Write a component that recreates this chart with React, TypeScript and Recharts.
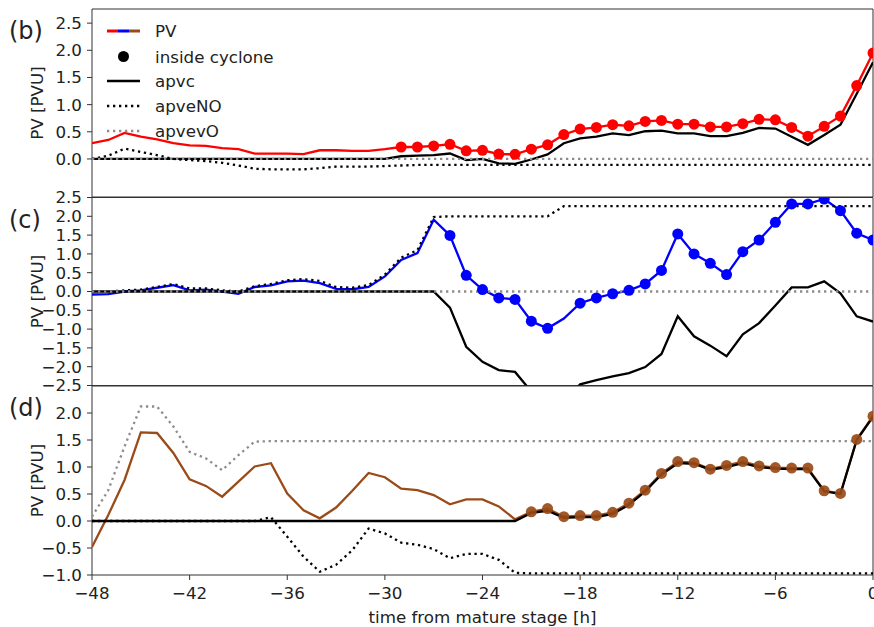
import { LineChart, Line, XAxis, YAxis, ReferenceArea, Label } from 'recharts'

const FONT = '"DejaVu Sans", sans-serif'
const FS = 16.7
const TXT = '#222'
const AX = '#333'
const RED = '#ff0000'
const BLUE = '#0000ff'
const BROWN = '#9a4b18'
const GREY = '#8c8c8c'
const LW = 2.3
const DOTS = '2.3 3.7'

// hours from mature stage, one value per hour
const HOURS = [
  -48, -47, -46, -45, -44, -43, -42,
  -41, -40, -39, -38, -37, -36, -35,
  -34, -33, -32, -31, -30, -29, -28,
  -27, -26, -25, -24, -23, -22, -21,
  -20, -19, -18, -17, -16, -15, -14,
  -13, -12, -11, -10, -9, -8, -7,
  -6, -5, -4, -3, -2, -1, 0,
]
const X_TICKS = [-48, -42, -36, -30, -24, -18, -12, -6, 0]

// panel (b)
const pvB = [
  0.29, 0.35, 0.48, 0.41, 0.36, 0.29, 0.25,
  0.24, 0.2, 0.18, 0.1, 0.1, 0.1, 0.09,
  0.16, 0.16, 0.15, 0.15, 0.18, 0.22, 0.22,
  0.24, 0.27, 0.15, 0.16, 0.09, 0.085, 0.18,
  0.26, 0.45, 0.55, 0.58, 0.63, 0.61, 0.69,
  0.71, 0.64, 0.64, 0.59, 0.59, 0.65, 0.73,
  0.72, 0.58, 0.42, 0.6, 0.79, 1.35, 1.95,
]
const apvcB = [
  0, 0, 0, 0, 0, 0, 0,
  0, 0, 0, 0, 0, 0, 0,
  0, 0, 0, 0, 0, 0.05, 0.06,
  0.07, 0.1, -0.02, 0, -0.08, -0.09, -0.01,
  0.085, 0.29, 0.38, 0.41, 0.47, 0.44, 0.51,
  0.52, 0.47, 0.47, 0.42, 0.42, 0.48, 0.57,
  0.56, 0.41, 0.26, 0.44, 0.63, 1.2, 1.78,
]
const apveNOB = [
  0, 0.06, 0.19, 0.13, 0.07, 0, -0.02,
  -0.04, -0.07, -0.12, -0.18, -0.19, -0.19, -0.19,
  -0.17, -0.14, -0.14, -0.14, -0.13, -0.12, -0.11,
  -0.11, -0.11, -0.11, -0.11, -0.11, -0.11, -0.11,
  -0.11, -0.11, -0.11, -0.11, -0.11, -0.11, -0.11,
  -0.11, -0.11, -0.11, -0.11, -0.11, -0.11, -0.11,
  -0.11, -0.11, -0.11, -0.11, -0.11, -0.11, -0.11,
]
const apvevOB = [
  0, 0, 0, 0, 0, 0, 0,
  0, 0, 0, 0, 0, 0, 0,
  0, 0, 0, 0, 0, 0, 0,
  0, 0, 0, 0, 0, 0, 0,
  0, 0, 0, 0, 0, 0, 0,
  0, 0, 0, 0, 0, 0, 0,
  0, 0, 0, 0, 0, 0, 0,
]
const insideB = [
  0, 0, 0, 0, 0, 0, 0,
  0, 0, 0, 0, 0, 0, 0,
  0, 0, 0, 0, 0, 1, 1,
  1, 1, 1, 1, 1, 1, 1,
  1, 1, 1, 1, 1, 1, 1,
  1, 1, 1, 1, 1, 1, 1,
  1, 1, 1, 1, 1, 1, 1,
]

// panel (c)
const pvC = [
  -0.08, -0.07, 0, 0.03, 0.1, 0.17, 0.03,
  0.05, 0, -0.06, 0.12, 0.16, 0.27, 0.29,
  0.22, 0.07, 0.06, 0.12, 0.4, 0.84, 1.02,
  1.91, 1.49, 0.43, 0.05, -0.17, -0.21, -0.79,
  -0.98, -0.72, -0.31, -0.17, -0.06, 0.03, 0.2,
  0.56, 1.53, 1.0, 0.75, 0.45, 1.06, 1.37,
  1.84, 2.33, 2.33, 2.46, 2.15, 1.55, 1.37,
]
const apvcC = [
  0, 0, 0, 0, 0, 0, 0,
  0, 0, 0, 0, 0, 0, 0,
  0, 0, 0, 0, 0, 0, 0,
  0, -0.43, -1.47, -1.87, -2.09, -2.14, -2.66,
  -3.2, -2.9, -2.47, -2.36, -2.26, -2.17, -2.01,
  -1.66, -0.66, -1.19, -1.44, -1.72, -1.14, -0.84,
  -0.37, 0.11, 0.11, 0.27, -0.05, -0.66, -0.8,
]
const apveNOC = [
  0, 0, 0.03, 0.05, 0.12, 0.2, 0.08,
  0.08, 0.03, 0, 0.14, 0.2, 0.3, 0.33,
  0.28, 0.12, 0.1, 0.17, 0.45, 0.9, 1.1,
  1.98, 2.0, 2.0, 2.0, 2.0, 2.0, 2.0,
  2.0, 2.27, 2.27, 2.27, 2.27, 2.27, 2.27,
  2.27, 2.27, 2.27, 2.27, 2.27, 2.27, 2.27,
  2.27, 2.27, 2.27, 2.27, 2.27, 2.27, 2.27,
]
const apvevOC = [
  0, 0, 0, 0, 0, 0, 0,
  0, 0, 0, 0, 0, 0, 0,
  0, 0, 0, 0, 0, 0, 0,
  0, 0, 0, 0, 0, 0, 0,
  0, 0, 0, 0, 0, 0, 0,
  0, 0, 0, 0, 0, 0, 0,
  0, 0, 0, 0, 0, 0, 0,
]
const insideC = [
  0, 0, 0, 0, 0, 0, 0,
  0, 0, 0, 0, 0, 0, 0,
  0, 0, 0, 0, 0, 0, 0,
  0, 1, 1, 1, 1, 1, 1,
  1, 0, 1, 1, 1, 1, 1,
  1, 1, 1, 1, 1, 1, 1,
  1, 1, 1, 1, 1, 1, 1,
]

// panel (d)
const pvD = [
  -0.48, 0.11, 0.76, 1.64, 1.63, 1.26, 0.77,
  0.65, 0.45, 0.73, 1.01, 1.07, 0.51, 0.2,
  0.05, 0.25, 0.56, 0.89, 0.81, 0.6, 0.57,
  0.48, 0.31, 0.4, 0.4, 0.27, 0.03, 0.17,
  0.23, 0.08, 0.1, 0.1, 0.16, 0.33, 0.57,
  0.88, 1.1, 1.08, 0.96, 1.03, 1.1, 1.02,
  0.99, 0.98, 0.98, 0.56, 0.51, 1.51, 1.94,
]
const apvcD = [
  0, 0, 0, 0, 0, 0, 0,
  0, 0, 0, 0, 0, 0, 0,
  0, 0, 0, 0, 0, 0, 0,
  0, 0, 0, 0, 0, 0, 0.15,
  0.19, 0.06, 0.07, 0.07, 0.13, 0.3, 0.55,
  0.86, 1.07, 1.06, 0.95, 1.0, 1.07, 1.0,
  0.97, 0.96, 0.96, 0.55, 0.5, 1.5, 1.93,
]
const apveNOD = [
  0, 0, 0, 0, 0, 0, 0,
  0, 0, 0, 0, 0.07, -0.29, -0.66,
  -0.94, -0.81, -0.54, -0.14, -0.23, -0.4, -0.44,
  -0.52, -0.69, -0.61, -0.61, -0.72, -0.96, -0.97,
  -0.97, -0.97, -0.97, -0.97, -0.97, -0.97, -0.97,
  -0.97, -0.97, -0.97, -0.97, -0.97, -0.97, -0.97,
  -0.97, -0.97, -0.97, -0.97, -0.97, -0.97, -0.97,
]
const apvevOD = [
  0.08, 0.57, 1.38, 2.12, 2.12, 1.75, 1.28,
  1.16, 0.94, 1.22, 1.47, 1.48, 1.48, 1.48,
  1.48, 1.48, 1.48, 1.48, 1.48, 1.48, 1.48,
  1.48, 1.48, 1.48, 1.48, 1.48, 1.48, 1.48,
  1.48, 1.48, 1.48, 1.48, 1.48, 1.48, 1.48,
  1.48, 1.48, 1.48, 1.48, 1.48, 1.48, 1.48,
  1.48, 1.48, 1.48, 1.48, 1.48, 1.48, 1.48,
]
const insideD = [
  0, 0, 0, 0, 0, 0, 0,
  0, 0, 0, 0, 0, 0, 0,
  0, 0, 0, 0, 0, 0, 0,
  0, 0, 0, 0, 0, 0, 1,
  1, 1, 1, 1, 1, 1, 1,
  1, 1, 1, 1, 1, 1, 1,
  1, 1, 1, 1, 1, 1, 1,
]

const Y_TICKS_B = [0, 0.5, 1, 1.5, 2, 2.5]
const Y_TICKS_C = [-2.5, -2, -1.5, -1, -0.5, 0, 0.5, 1, 1.5, 2, 2.5]
const Y_TICKS_D = [-1, -0.5, 0, 0.5, 1, 1.5, 2]

const minus = (s: string) => s.replace('-', '\u2212')
const tickStyle = { fill: TXT, fontSize: FS, fontFamily: FONT }

interface PanelProps {
  tag: string
  top: number
  height: number
  mTop: number
  mBottom: number
  domain: [number, number]
  yTicks: number[]
  pv: number[]
  apvc: number[]
  apveNO: number[]
  apvevO: number[]
  inside: number[]
  color: string
  dotOpacity: number
  showX?: boolean
}

function Panel(p: PanelProps) {
  const rows = HOURS.map((t, i) => ({
    t,
    pv: p.pv[i],
    apvc: p.apvc[i],
    apveNO: p.apveNO[i],
    apvevO: p.apvevO[i],
    inside: p.inside[i],
  }))

  const yLabel = (lp: any) => {
    const vb = lp.viewBox || {}
    const cy = vb.y + vb.height / 2
    return (
      <g>
        <text
          x={vb.x}
          y={cy}
          transform={`rotate(-90 ${vb.x} ${cy})`}
          textAnchor="middle"
          dominantBaseline="central"
          fill={TXT}
          fontSize={FS}
          fontFamily={FONT}
        >
          PV [PVU]
        </text>
        <text x={9} y={vb.y + 22} dominantBaseline="central" fill={TXT} fontSize={24} fontFamily={FONT}>
          {p.tag}
        </text>
      </g>
    )
  }

  const xLabel = (lp: any) => {
    const vb = lp.viewBox || {}
    return (
      <text
        x={vb.x + vb.width / 2}
        y={vb.y + 48}
        textAnchor="middle"
        fill={TXT}
        fontSize={FS}
        fontFamily={FONT}
      >
        time from mature stage [h]
      </text>
    )
  }

  const renderDot = (d: any) =>
    d.payload && d.payload.inside ? (
      <circle key={d.index} cx={d.cx} cy={d.cy} r={5.5} fill={p.color} fillOpacity={p.dotOpacity} stroke="none" />
    ) : (
      <g key={d.index} />
    )

  return (
    <div style={{ position: 'absolute', left: 0, top: p.top }}>
      <LineChart
        width={874}
        height={p.height}
        data={rows}
        margin={{ top: p.mTop, right: 1, bottom: p.mBottom, left: 37 }}
      >
        <XAxis
          dataKey="t"
          type="number"
          domain={[-48, 0]}
          allowDataOverflow
          ticks={X_TICKS}
          interval={0}
          hide={!p.showX}
          height={45}
          axisLine={false}
          tickLine={{ stroke: AX }}
          tickSize={5}
          tickMargin={7}
          tick={tickStyle}
          tickFormatter={(v: number) => minus(String(v))}
        >
          {p.showX && <Label content={xLabel} />}
        </XAxis>
        <YAxis
          type="number"
          domain={p.domain}
          allowDataOverflow
          ticks={p.yTicks}
          interval={0}
          width={55}
          axisLine={false}
          tickLine={{ stroke: AX }}
          tickSize={5}
          tickMargin={5}
          tick={tickStyle}
          tickFormatter={(v: number) => minus(v.toFixed(1))}
        >
          <Label content={yLabel} />
        </YAxis>
        <ReferenceArea
          x1={-48}
          x2={0}
          y1={p.domain[0]}
          y2={p.domain[1]}
          fill="none"
          stroke={AX}
          strokeWidth={1}
          ifOverflow="visible"
        />
        <Line
          dataKey="pv"
          stroke={p.color}
          strokeWidth={LW}
          dot={renderDot}
          activeDot={false}
          isAnimationActive={false}
        />
        <Line dataKey="apvc" stroke="#000" strokeWidth={LW} dot={false} activeDot={false} isAnimationActive={false} />
        <Line
          dataKey="apveNO"
          stroke="#000"
          strokeWidth={LW}
          strokeDasharray={DOTS}
          dot={false}
          activeDot={false}
          isAnimationActive={false}
        />
        <Line
          dataKey="apvevO"
          stroke={GREY}
          strokeWidth={LW}
          strokeDasharray={DOTS}
          dot={false}
          activeDot={false}
          isAnimationActive={false}
        />
      </LineChart>
    </div>
  )
}

const LEGEND = ['PV', 'inside cyclone', 'apvc', 'apveNO', 'apvevO']
const LEGEND_Y = [31, 56.5, 81, 106, 131]

function LegendBox() {
  const x0 = 107
  const x1 = 140
  const seg = (x1 - x0) / 3
  return (
    <svg width={300} height={150} style={{ position: 'absolute', left: 0, top: 0, pointerEvents: 'none' }}>
      <line x1={x0} x2={x0 + seg} y1={LEGEND_Y[0]} y2={LEGEND_Y[0]} stroke={RED} strokeWidth={3} />
      <line x1={x0 + seg} x2={x0 + 2 * seg} y1={LEGEND_Y[0]} y2={LEGEND_Y[0]} stroke={BLUE} strokeWidth={3} />
      <line x1={x0 + 2 * seg} x2={x1} y1={LEGEND_Y[0]} y2={LEGEND_Y[0]} stroke={BROWN} strokeWidth={3} />
      <circle cx={(x0 + x1) / 2} cy={LEGEND_Y[1]} r={5.5} fill="#000" />
      <line x1={x0} x2={x1} y1={LEGEND_Y[2]} y2={LEGEND_Y[2]} stroke="#000" strokeWidth={LW} />
      <line x1={x0} x2={x1} y1={LEGEND_Y[3]} y2={LEGEND_Y[3]} stroke="#000" strokeWidth={LW} strokeDasharray={DOTS} />
      <line x1={x0} x2={x1} y1={LEGEND_Y[4]} y2={LEGEND_Y[4]} stroke={GREY} strokeWidth={LW} strokeDasharray={DOTS} />
      {LEGEND.map((name, i) => (
        <text
          key={name}
          x={155}
          y={LEGEND_Y[i]}
          dominantBaseline="central"
          fill={TXT}
          fontSize={FS}
          fontFamily={FONT}
        >
          {name}
        </text>
      ))}
    </svg>
  )
}

export default function App() {
  return (
    <div style={{ position: 'absolute', left: 0, top: 0, width: 874, height: 627, background: '#fff', overflow: 'hidden' }}>
      <Panel
        tag="(b)"
        top={0}
        height={205}
        mTop={9}
        mBottom={8}
        domain={[-0.7, 2.76]}
        yTicks={Y_TICKS_B}
        pv={pvB}
        apvc={apvcB}
        apveNO={apveNOB}
        apvevO={apvevOB}
        inside={insideB}
        color={RED}
        dotOpacity={1}
      />
      <Panel
        tag="(c)"
        top={180}
        height={220}
        mTop={17.5}
        mBottom={14.5}
        domain={[-2.5, 2.5]}
        yTicks={Y_TICKS_C}
        pv={pvC}
        apvc={apvcC}
        apveNO={apveNOC}
        apvevO={apvevOC}
        inside={insideC}
        color={BLUE}
        dotOpacity={1}
      />
      <Panel
        tag="(d)"
        top={370}
        height={257}
        mTop={16}
        mBottom={7}
        domain={[-1, 2.5]}
        yTicks={Y_TICKS_D}
        pv={pvD}
        apvc={apvcD}
        apveNO={apveNOD}
        apvevO={apvevOD}
        inside={insideD}
        color={BROWN}
        dotOpacity={0.92}
        showX
      />
      <LegendBox />
    </div>
  )
}
